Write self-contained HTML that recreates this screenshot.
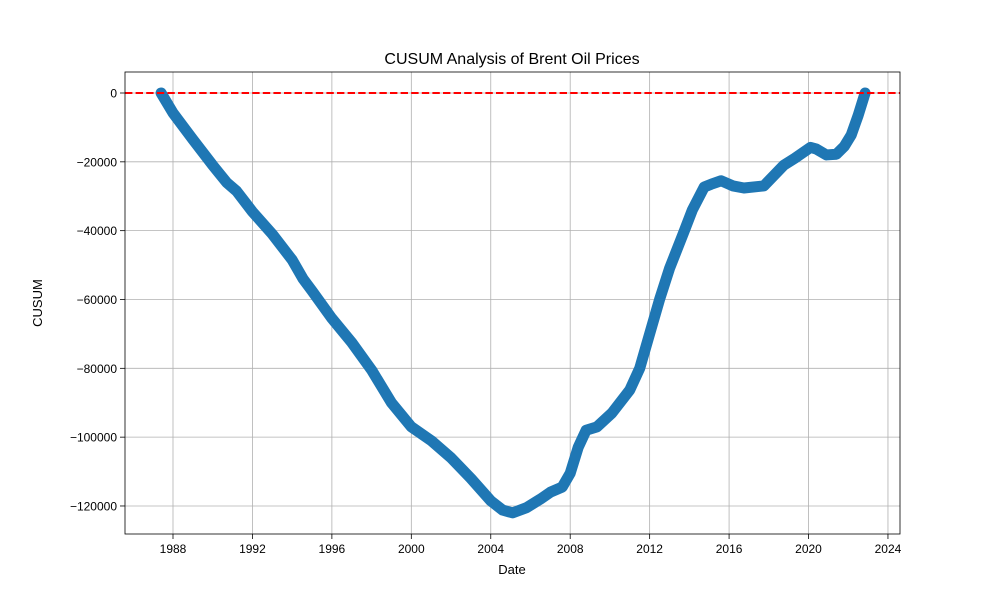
<!DOCTYPE html>
<html><head><meta charset="utf-8"><style>
body{margin:0;background:#fff;font-family:"Liberation Sans","DejaVu Sans",sans-serif;}
</style></head><body>
<svg id="chart" width="1000" height="600" xmlns="http://www.w3.org/2000/svg">
<rect width="1000" height="600" fill="#fff"/>
<g id="grid"></g>
<g id="series"></g>
<g id="axes"></g>
<text x="512" y="64" text-anchor="middle" font-size="16">CUSUM Analysis of Brent Oil Prices</text>
<text x="512" y="574" text-anchor="middle" font-size="13">Date</text>
<text x="42" y="303" text-anchor="middle" font-size="13" transform="rotate(-90 42 303)">CUSUM</text>
</svg>
<script>
const years=[1987.4,1988,1989,1990,1990.7,1991.2,1992,1993,1994,1994.55,1995,1996,1997,1998,1999,2000,2001,2002,2003,2004,2004.6,2005.1,2005.8,2006.5,2007,2007.6,2008,2008.4,2008.8,2009.35,2010.1,2011,2011.5,2012,2012.5,2013,2013.75,2014.15,2014.75,2015.1,2015.6,2016.2,2016.75,2017.75,2018.75,2019.3,2020.1,2020.4,2020.9,2021.4,2021.8,2022.15,2022.5,2022.85];
const cusum=[0,-5800,-13500,-21000,-26000,-28500,-34500,-41000,-48500,-54000,-57500,-65500,-72500,-80500,-90000,-97000,-101000,-106000,-112000,-118500,-121200,-122000,-120500,-118000,-116000,-114500,-110500,-103000,-98000,-97000,-93000,-86300,-80000,-70000,-60000,-51000,-40000,-34000,-27300,-26500,-25500,-27000,-27600,-27000,-21000,-19000,-15800,-16300,-18000,-17800,-15500,-12200,-6500,0];
const xTicks=[1988,1992,1996,2000,2004,2008,2012,2016,2020,2024];
const yTicks=[0,-20000,-40000,-60000,-80000,-100000,-120000];
const L=125,R=900,T=72,B=534;
const xs=y=>173+(y-1988)*19.86;
const ys=v=>93-v/20000*68.83;
const NS='http://www.w3.org/2000/svg';
function mk(tag,attrs,parent){const e=document.createElementNS(NS,tag);for(const k in attrs)e.setAttribute(k,attrs[k]);parent.appendChild(e);return e;}
const grid=document.getElementById('grid'),axes=document.getElementById('axes'),series=document.getElementById('series');
xTicks.forEach(t=>{const x=xs(t);
 const g=mk('line',{x1:x,x2:x,y1:T,y2:B,stroke:'#b0b0b0','stroke-width':0.8},grid);
 
 
 mk('line',{x1:x,x2:x,y1:B,y2:B+5,stroke:'#000','stroke-width':0.8},axes);
 const tx=mk('text',{x:x,y:B+19,'text-anchor':'middle','font-size':12},axes);tx.textContent=t;
 
 
});
yTicks.forEach(t=>{const y=ys(t);
 const g=mk('line',{x1:L,x2:R,y1:y,y2:y,stroke:'#b0b0b0','stroke-width':0.8},grid);
 
 
 mk('line',{x1:L-5,x2:L,y1:y,y2:y,stroke:'#000','stroke-width':0.8},axes);
 const tx=mk('text',{x:L-8,y:y+4.5,'text-anchor':'end','font-size':12},axes);tx.textContent=t===0?'0':'\u2212'+Math.abs(t);
 
 
});
const pts=years.map((y,i)=>xs(y)+','+ys(cusum[i])).join(' ');
const pl=mk('polyline',{points:pts,fill:'none',stroke:'#1f77b4','stroke-width':11,'stroke-linejoin':'round','stroke-linecap':'round'},series);


const zl=mk('line',{x1:L,x2:R,y1:ys(0),y2:ys(0),stroke:'#ff0000','stroke-width':2,'stroke-dasharray':'7.4,3.2'},series);


const fr=mk('rect',{x:L,y:T,width:R-L,height:B-T,fill:'none',stroke:'#000','stroke-width':0.8},axes);


</script>
</body></html>
